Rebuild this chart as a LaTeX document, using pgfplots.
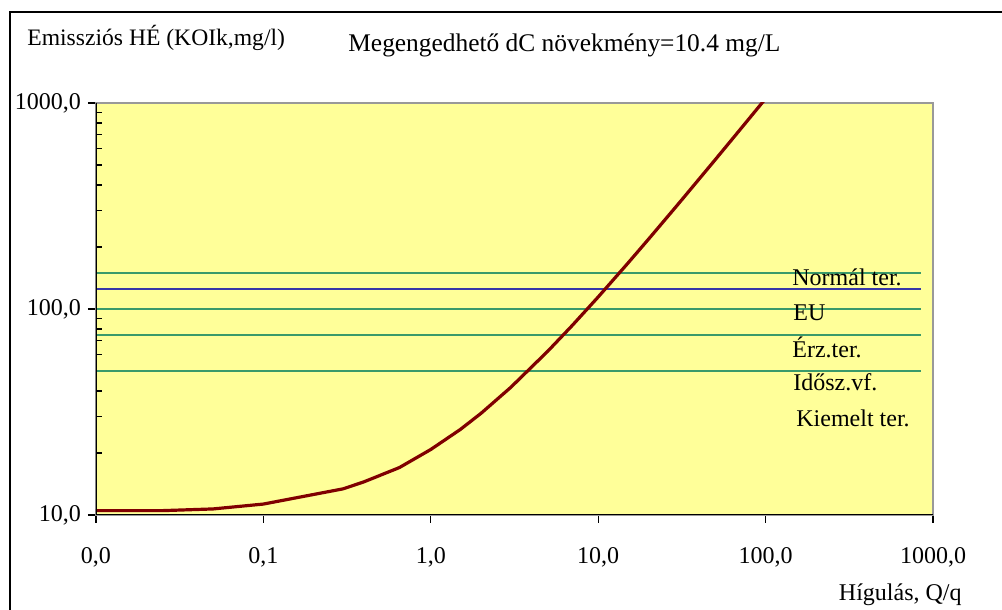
\documentclass[border=0pt]{standalone}
\usepackage{pgfplots}
\pgfplotsset{compat=1.18}
\usepackage{fontspec}
\setmainfont{Liberation Serif}
\definecolor{bgyellow}{HTML}{FFFF99}
\definecolor{limgreen}{HTML}{3A9A6A}
\definecolor{limblue}{HTML}{3838A8}
\definecolor{curvered}{HTML}{800000}
\begin{document}
\begin{tikzpicture}
\path[use as bounding box] (0,0) rectangle (501pt,305pt);
\draw[line width=1pt] (5pt,0) -- (5pt,299pt) -- (501pt,299pt);
\node[anchor=west, font=\fontsize{11.8}{13}\selectfont, inner sep=0] at (13.5pt,286pt) {Emissziós HÉ (KOIk,mg/l)};
\node[anchor=west, font=\fontsize{12.7}{14}\selectfont, inner sep=0] at (174pt,282.5pt) {Megengedhető dC növekmény=10.4 mg/L};
\node[anchor=east, font=\fontsize{12}{13}\selectfont, inner sep=0] at (481pt,7.5pt) {Hígulás, Q/q};
\begin{axis}[
  at={(48pt,47.5pt)}, anchor=south west,
  scale only axis, width=418.5pt, height=206pt,
  xmode=log, ymode=log,
  xmin=0.01, xmax=1000, ymin=10, ymax=1000,
  axis background/.style={fill=bgyellow},
  axis line style={draw=gray!80, line width=0.6pt},
  xtick={0.01,0.1,1,10,100,1000},
  ytick={10,100,1000},
  xtick pos=bottom, ytick pos=left,
  xminorticks=false,
  tick align=outside,
  major tick length=4pt,
  minor tick length=3pt,
  minor y tick style={xshift=3pt},
  tick style={black, line width=0.6pt},
  ticklabel style={font=\fontsize{12}{13}\selectfont},
  xticklabel style={yshift=-9pt},
  yticklabel style={xshift=0pt},
  clip=true,
]
\pgfplotsset{xticklabels={{0,0},{0,1},{1,0},{10,0},{100,0},{1000,0}}, yticklabels={{10,0},{100,0},{1000,0}}}
\addplot[limgreen, line width=1pt] coordinates {(0.01,150) (850,150)};
\addplot[limblue, line width=1pt] coordinates {(0.01,125) (850,125)};
\addplot[limgreen, line width=1pt] coordinates {(0.01,100) (850,100)};
\addplot[limgreen, line width=1pt] coordinates {(0.01,75) (850,75)};
\addplot[limgreen, line width=1pt] coordinates {(0.01,50) (850,50)};
\addplot[curvered, line width=1.6pt] coordinates {
(0.01,10.5) (0.025,10.5) (0.05,10.7) (0.1,11.3) (0.3,13.4) (0.4,14.5) (0.65,17.0)
(1,20.8) (1.5,26.0) (2,31.2) (3,41.6) (5,62.4) (7,83.2) (10,114.4) (15,166.4)
(20,218.4) (30,322.4) (50,530.4) (70,738.4) (100,1050.4)};
\draw[black, line width=0.9pt] (rel axis cs:0,1) -- (rel axis cs:0,0) -- (rel axis cs:1,0);
\node[anchor=west, inner sep=0, font=\fontsize{12}{13}\selectfont] at (rel axis cs:0.8315,0.578) {Normál ter.};
\node[anchor=west, inner sep=0, font=\fontsize{12}{13}\selectfont] at (rel axis cs:0.8327,0.490) {EU};
\node[anchor=west, inner sep=0, font=\fontsize{12}{13}\selectfont] at (rel axis cs:0.8315,0.408) {Érz.ter.};
\node[anchor=west, inner sep=0, font=\fontsize{12}{13}\selectfont] at (rel axis cs:0.8327,0.323) {Idősz.vf.};
\node[anchor=west, inner sep=0, font=\fontsize{12}{13}\selectfont] at (rel axis cs:0.8363,0.235) {Kiemelt ter.};
\end{axis}
\end{tikzpicture}
\end{document}
